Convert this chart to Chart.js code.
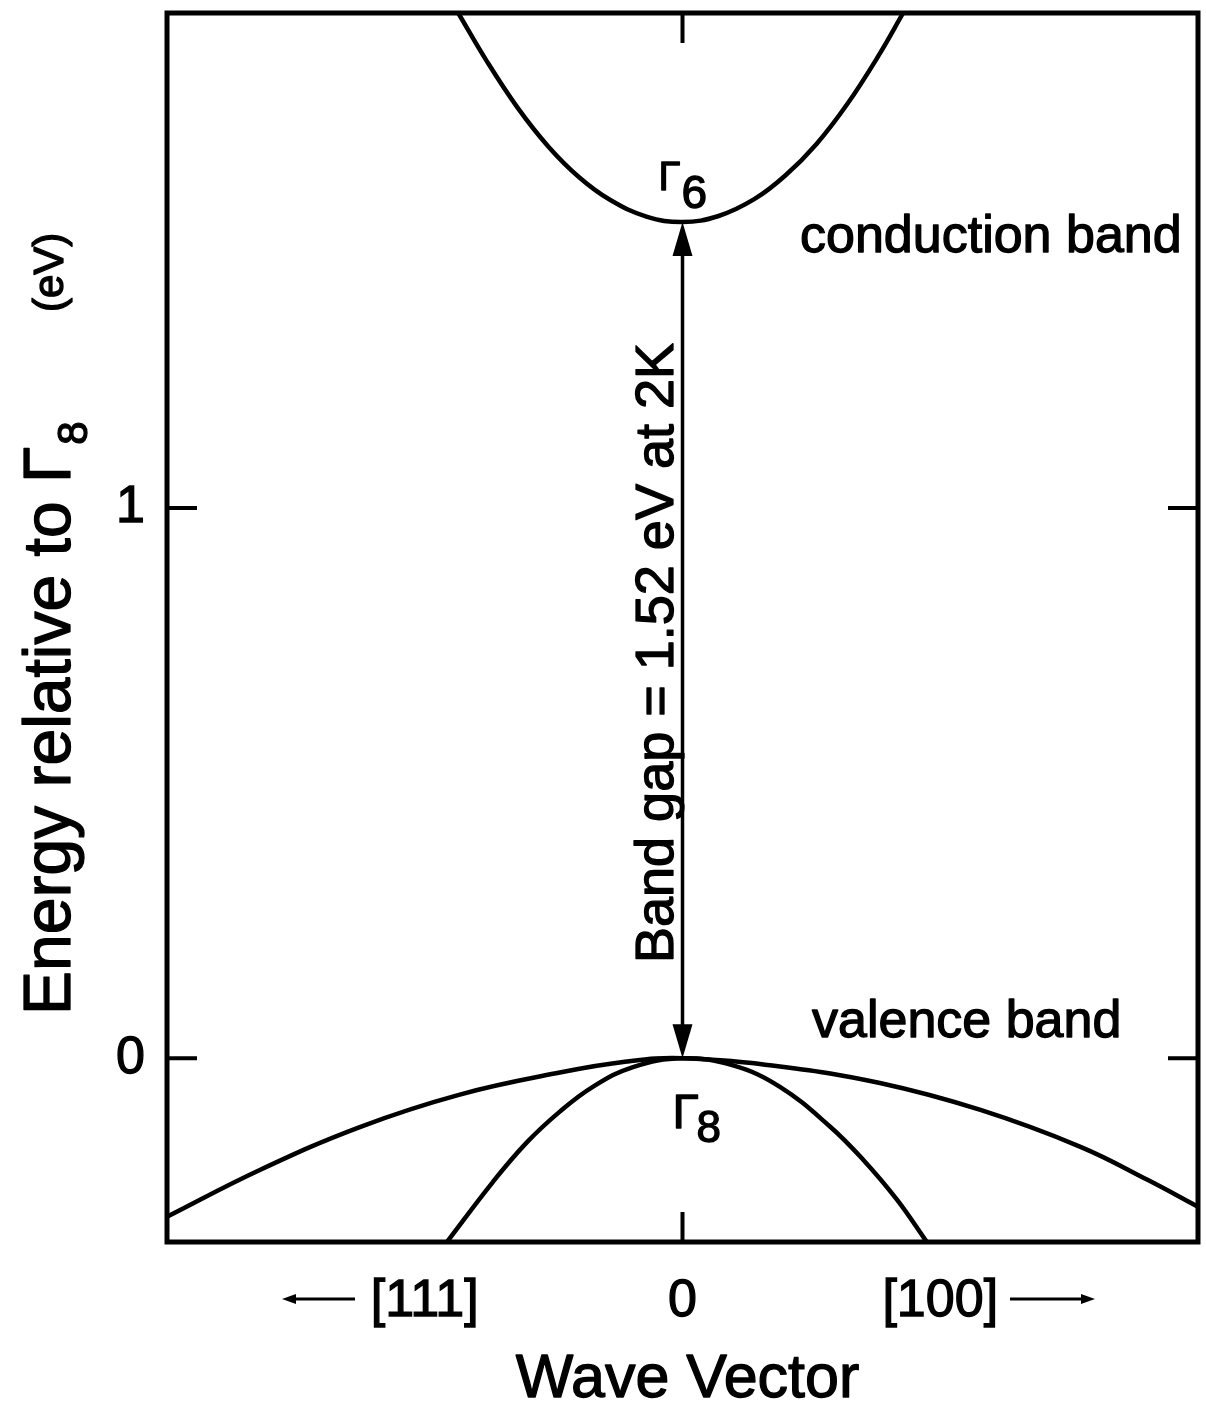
<!DOCTYPE html>
<html>
<head>
<meta charset="utf-8">
<script src="https://cdn.jsdelivr.net/npm/chart.js@4.4.1/dist/chart.umd.min.js"></script>
<style>
  html, body { margin: 0; padding: 0; background: #fff; }
  #wrap { position: relative; width: 1206px; height: 1408px; }
</style>
</head>
<body>
<div id="wrap"><canvas id="bands" width="1206" height="1408"></canvas></div>
<script>
// Wave vector in units of the plotted half-range: negative side along [111], positive along [100].
// Energies in eV relative to the Γ8 valence-band maximum.
const conductionK = [-0.435, -0.38, -0.32, -0.26, -0.20, -0.14, -0.07, 0, 0.07, 0.14, 0.20, 0.26, 0.32, 0.38, 0.428];
const conductionE = [1.90, 1.813, 1.728, 1.657, 1.601, 1.560, 1.530, 1.52, 1.531, 1.562, 1.605, 1.662, 1.735, 1.822, 1.90];

const heavyHoleK = [-1.0, -0.820, -0.626, -0.432, -0.238, -0.108, 0, 0.189, 0.383, 0.578, 0.772, 0.902, 1.0];
const heavyHoleE = [-0.288, -0.203, -0.125, -0.066, -0.026, -0.006, 0, -0.015, -0.045, -0.094, -0.161, -0.221, -0.270];

const lightHoleK = [-0.457, -0.368, -0.302, -0.238, -0.174, -0.096, 0, 0.098, 0.189, 0.286, 0.350, 0.416, 0.474];
const lightHoleE = [-0.334, -0.225, -0.153, -0.097, -0.052, -0.016, 0, -0.013, -0.052, -0.124, -0.184, -0.257, -0.334];

const bandGap = 1.52;           // eV at 2 K, Γ8 -> Γ6
const yTickValues = [0, 1];
const yTickLabels = ['0', '1'];
const xTickValues = [-0.5, 0, 0.5];
const xTickLabels = ['[111]', '0', '[100]'];

const FONT = "'Liberation Sans', Arial, sans-serif";
const INK = '#000';

function toPoints(ks, es) {
  return ks.map((k, i) => ({ x: k, y: es[i] }));
}

function bandDataset(label, ks, es) {
  return {
    label,
    data: toPoints(ks, es),
    showLine: true,
    borderColor: INK,
    borderWidth: 4.5,
    pointRadius: 0,
    tension: 0.4,
    fill: false,
    clip: 0
  };
}

function arrowHead(ctx, tipX, tipY, dirX, dirY, len, halfW) {
  const bx = tipX - dirX * len, by = tipY - dirY * len;
  const px = -dirY, py = dirX;
  ctx.beginPath();
  ctx.moveTo(tipX, tipY);
  ctx.lineTo(bx + px * halfW, by + py * halfW);
  ctx.lineTo(bx - px * halfW, by - py * halfW);
  ctx.closePath();
  ctx.fill();
}

// filled text with a thin outline so strokes read as heavy as the plotted lines
function inkText(ctx, text, x, y) {
  ctx.fillText(text, x, y);
  ctx.strokeText(text, x, y);
}

// Frame, inward ticks, band-gap arrow and the text annotations
const decorations = {
  id: 'decorations',
  afterDraw(chart) {
    const { ctx, chartArea: a, scales: { x: xs, y: ys } } = chart;
    ctx.save();
    ctx.strokeStyle = INK;
    ctx.fillStyle = INK;
    ctx.lineCap = 'butt';

    // plot frame
    ctx.lineWidth = 5;
    ctx.strokeRect(a.left, a.top, a.right - a.left, a.bottom - a.top);

    // inward tick marks on all four sides
    ctx.lineWidth = 4;
    const tl = 30;
    ctx.beginPath();
    yTickValues.forEach(v => {
      const py = ys.getPixelForValue(v);
      ctx.moveTo(a.left, py); ctx.lineTo(a.left + tl, py);
      ctx.moveTo(a.right, py); ctx.lineTo(a.right - tl, py);
    });
    const px0 = xs.getPixelForValue(0);
    ctx.moveTo(px0, a.top); ctx.lineTo(px0, a.top + tl);
    ctx.moveTo(px0, a.bottom); ctx.lineTo(px0, a.bottom - tl);
    ctx.stroke();

    // double-headed band-gap arrow between Γ8 and Γ6
    const yTop = ys.getPixelForValue(bandGap);
    const yBot = ys.getPixelForValue(0);
    const headLen = 34, headHalf = 10;
    ctx.lineWidth = 3.5;
    ctx.beginPath();
    ctx.moveTo(px0, yTop + headLen - 4);
    ctx.lineTo(px0, yBot - headLen + 4);
    ctx.stroke();
    arrowHead(ctx, px0, yTop, 0, -1, headLen, headHalf);
    arrowHead(ctx, px0, yBot, 0, 1, headLen, headHalf);

    ctx.textAlign = 'left';
    ctx.textBaseline = 'alphabetic';
    ctx.lineWidth = 1.3;
    ctx.lineJoin = 'round';

    // Γ6 at the conduction-band minimum
    ctx.font = '40px ' + FONT;
    inkText(ctx, 'Γ', px0 - 24, yTop - 32);
    ctx.font = '46px ' + FONT;
    inkText(ctx, '6', px0 - 1, yTop - 14);

    // Γ8 below the valence-band maximum
    ctx.font = '48px ' + FONT;
    inkText(ctx, 'Γ', px0 - 10, yBot + 70);
    ctx.font = '44px ' + FONT;
    inkText(ctx, '8', px0 + 14, yBot + 84);

    // band names
    ctx.font = '52px ' + FONT;
    inkText(ctx, 'conduction band', 800, 252);
    inkText(ctx, 'valence band', 812, 1037);

    // band-gap label along the arrow
    ctx.save();
    ctx.translate(px0 - 10, 653);
    ctx.rotate(-Math.PI / 2);
    ctx.textAlign = 'center';
    ctx.font = '54px ' + FONT;
    inkText(ctx, 'Band gap = 1.52 eV at 2K', 0, 0);
    ctx.restore();

    // y-axis title with subscript and unit
    ctx.save();
    ctx.translate(70, 1015);
    ctx.rotate(-Math.PI / 2);
    ctx.textAlign = 'left';
    ctx.font = '66px ' + FONT;
    const main = 'Energy relative to Γ';
    inkText(ctx, main, 0, 0);
    const w = ctx.measureText(main).width;
    ctx.font = '42px ' + FONT;
    inkText(ctx, '8', w + 2, 17);
    inkText(ctx, '(eV)', 703, -7);
    ctx.restore();

    // axis title
    ctx.textAlign = 'center';
    ctx.font = '61px ' + FONT;
    inkText(ctx, 'Wave Vector', (a.left + a.right) / 2 + 5, 1397);

    // direction arrows beside the [111] and [100] labels
    const ay = a.bottom + 57;
    ctx.lineWidth = 3;
    ctx.beginPath();
    ctx.moveTo(355, ay); ctx.lineTo(292, ay);
    ctx.moveTo(1010, ay); ctx.lineTo(1085, ay);
    ctx.stroke();
    arrowHead(ctx, 282, ay, -1, 0, 14, 5);
    arrowHead(ctx, 1095, ay, 1, 0, 14, 5);

    ctx.restore();
  }
};

new Chart(document.getElementById('bands'), {
  type: 'scatter',
  data: {
    datasets: [
      bandDataset('conduction band', conductionK, conductionE),
      bandDataset('heavy hole', heavyHoleK, heavyHoleE),
      bandDataset('light hole', lightHoleK, lightHoleE)
    ]
  },
  options: {
    responsive: false,
    animation: false,
    devicePixelRatio: 1,
    layout: { padding: { top: 13, right: 8, left: 0, bottom: 0 } },
    plugins: { legend: { display: false }, tooltip: { enabled: false } },
    scales: {
      x: {
        type: 'linear', position: 'bottom', min: -1, max: 1,
        grid: { display: false, drawTicks: false },
        border: { display: false },
        afterBuildTicks: s => { s.ticks = xTickValues.map(v => ({ value: v })); },
        ticks: {
          color: INK, padding: 34, maxRotation: 0, autoSkip: false,
          textStrokeColor: INK, textStrokeWidth: 1.3,
          font: { family: FONT, size: 52, lineHeight: 1 },
          callback: (v, i) => xTickLabels[i]
        },
        title: { display: false, text: 'Wave Vector' },
        afterFit: s => { s.height = 166; s.paddingLeft = 0; s.paddingRight = 0; }
      },
      y: {
        type: 'linear', min: -0.334, max: 1.9,
        grid: { display: false, drawTicks: false },
        border: { display: false },
        afterBuildTicks: s => { s.ticks = yTickValues.map(v => ({ value: v })); },
        ticks: {
          color: INK, padding: 22,
          textStrokeColor: INK, textStrokeWidth: 1.3,
          font: { family: FONT, size: 52, lineHeight: 1 },
          callback: (v, i) => yTickLabels[i]
        },
        afterFit: s => { s.width = 167; s.paddingTop = 0; s.paddingBottom = 0; }
      }
    }
  },
  plugins: [decorations]
});
</script>
</body>
</html>
